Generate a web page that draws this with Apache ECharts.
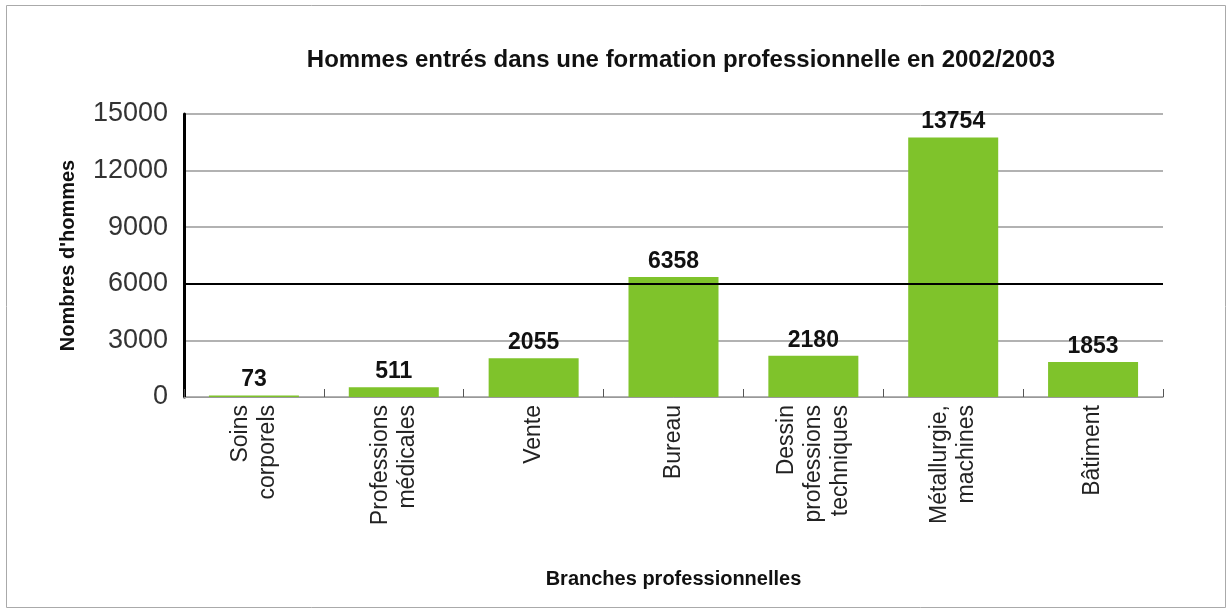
<!DOCTYPE html>
<html>
<head>
<meta charset="utf-8">
<script src="https://cdn.jsdelivr.net/npm/echarts@6/dist/echarts.min.js"></script>
<style>
  html, body { margin: 0; padding: 0; background: #fff; }
  #chart { width: 1231px; height: 612px; }
</style>
</head>
<body>
<div id="chart"></div>
<script>
// branches professionnelles et nombres d'hommes
var categories = ['Soins\ncorporels', 'Professions\nmédicales', 'Vente', 'Bureau',
                  'Dessin\nprofessions\ntechniques', 'Métallurgie,\nmachines', 'Bâtiment'];
var hommes = [73, 511, 2055, 6358, 2180, 13754, 1853];
var yTicks = [0, 3000, 6000, 9000, 12000, 15000];

var myChart = echarts.init(document.getElementById('chart'));
var option = {
    animation: false,
    textStyle: { fontFamily: 'Liberation Sans' },
    title: {
        text: 'Hommes entrés dans une formation professionnelle en 2002/2003',
        left: 676, top: 43, textAlign: 'center',
        textStyle: { fontSize: 24, fontWeight: 'bold', color: '#111' }
    },
    graphic: [{
        type: 'rect',
        shape: { x: 6.5, y: 5.5, width: 1219, height: 602 },
        style: { fill: 'none', stroke: '#aaa', lineWidth: 1 }
    }],
    grid: { left: 184, right: 68, top: 114, bottom: 215 },
    xAxis: {
        type: 'category',
        data: categories,
        name: 'Branches professionnelles',
        nameLocation: 'middle',
        nameGap: 172,
        nameTextStyle: { fontSize: 20, fontWeight: 'bold', color: '#111' },
        axisLine: { lineStyle: { color: '#999', width: 1 } },
        axisTick: { show: true, inside: true, length: 8, lineStyle: { color: '#555' } },
        axisLabel: {
            rotate: 90, margin: 8, fontSize: 23, lineHeight: 27,
            color: '#222', interval: 0
        }
    },
    yAxis: {
        type: 'value',
        min: 0, max: 15000, interval: 3000,
        name: "Nombres d'hommes",
        nameLocation: 'middle',
        nameGap: 106,
        nameTextStyle: { fontSize: 20, fontWeight: 'bold', color: '#111' },
        axisLine: { show: true, lineStyle: { color: '#000', width: 3 } },
        axisTick: { show: false },
        axisLabel: {
            margin: 16, fontSize: 27, color: '#333',
            formatter: function (v) { return yTicks.indexOf(v) >= 0 ? String(v) : ''; }
        },
        splitLine: { lineStyle: { color: '#999', width: 1.5 } }
    },
    series: [{
        type: 'bar',
        data: hommes,
        barWidth: 90,
        itemStyle: { color: '#7fc32b' },
        label: {
            show: true, position: 'top', distance: 4,
            fontSize: 23, fontWeight: 'bold', color: '#111'
        },
        markLine: {
            silent: true, symbol: 'none', label: { show: false },
            lineStyle: { color: '#000', width: 2, type: 'solid' },
            data: [{ yAxis: 6000 }]
        },
        z: 3
    }]
};
myChart.setOption(option);
window.addEventListener('resize', function () {
    myChart.resize();
});
</script>
</body>
</html>
